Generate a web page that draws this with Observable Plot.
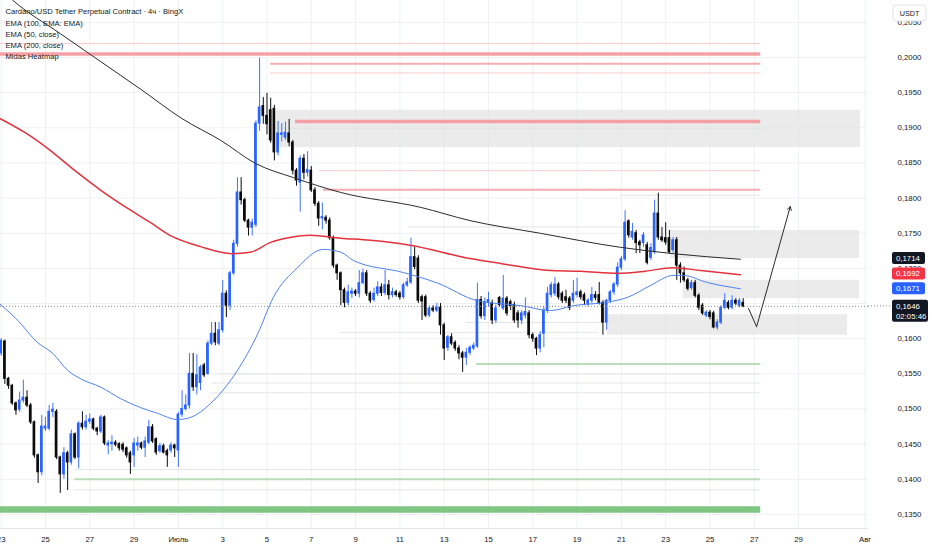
<!DOCTYPE html>
<html><head><meta charset="utf-8">
<script src="https://cdn.jsdelivr.net/npm/d3@7"></script>
<script src="https://cdn.jsdelivr.net/npm/@observablehq/plot@0.6"></script>
<style>
body{margin:0;background:#fff;}
#chart{position:relative;width:932px;height:550px;overflow:hidden;}
</style></head><body><div id="chart"></div>
<script>
// ---------- DATA ----------
const candleStart = "2025-06-23T00:00";   // first 4h candle
const candleHours = 4;
const opens = [
0.1579,0.1596,0.1543,0.1533,0.1508,0.1499,0.1512,0.1516,0.1505,0.1481,
0.1434,0.1410,0.1472,0.1472,0.1496,0.1496,0.1431,0.1407,0.1437,0.1424,
0.1464,0.1431,0.1479,0.1474,0.1482,0.1485,0.1472,0.1468,0.1488,0.1448,
0.1450,0.1452,0.1450,0.1449,0.1444,0.1437,0.1434,0.1448,0.1451,0.1445,
0.1452,0.1474,0.1457,0.1440,0.1447,0.1440,0.1441,0.1448,0.1441,0.1492,
0.1500,0.1505,0.1550,0.1531,0.1537,0.1562,0.1550,0.1593,0.1607,0.1593,
0.1612,0.1664,0.1647,0.1693,0.1735,0.1808,0.1797,0.1768,0.1758,0.1762,
0.1906,0.1931,0.1917,0.1925,0.1927,0.1865,0.1890,0.1886,0.1892,0.1879,
0.1839,0.1822,0.1856,0.1836,0.1839,0.1811,0.1792,0.1771,0.1772,0.1768,
0.1743,0.1704,0.1693,0.1669,0.1651,0.1664,0.1667,0.1664,0.1679,0.1693,
0.1664,0.1655,0.1664,0.1673,0.1665,0.1676,0.1662,0.1666,0.1664,0.1659,
0.1676,0.1680,0.1716,0.1714,0.1659,0.1659,0.1633,0.1643,0.1640,0.1644,
0.1619,0.1587,0.1602,0.1594,0.1586,0.1579,0.1573,0.1580,0.1586,0.1589,
0.1655,0.1632,0.1652,0.1650,0.1626,0.1658,0.1643,0.1657,0.1652,0.1648,
0.1636,0.1626,0.1633,0.1636,0.1605,0.1600,0.1586,0.1607,0.1640,0.1662,
0.1664,0.1677,0.1664,0.1659,0.1657,0.1654,0.1662,0.1666,0.1662,0.1649,
0.1654,0.1662,0.1662,0.1651,0.1623,0.1654,0.1666,0.1677,0.1701,0.1713,
0.1767,0.1744,0.1750,0.1737,0.1736,0.1733,0.1715,0.1723,0.1778,0.1744,
0.1743,0.1743,0.1726,0.1740,0.1704,0.1693,0.1683,0.1672,0.1679,0.1661,
0.1647,0.1633,0.1637,0.1636,0.1616,0.1623,0.1644,0.1651,0.1644,0.1654,
0.1647,0.1651];
const highs = [
0.1600,0.1598,0.1545,0.1535,0.1510,0.1524,0.1541,0.1526,0.1508,0.1483,
0.1436,0.1491,0.1488,0.1505,0.1508,0.1499,0.1433,0.1445,0.1440,0.1470,
0.1466,0.1482,0.1496,0.1491,0.1493,0.1487,0.1474,0.1491,0.1490,0.1455,
0.1462,0.1455,0.1452,0.1452,0.1446,0.1440,0.1458,0.1460,0.1453,0.1460,
0.1484,0.1478,0.1459,0.1451,0.1450,0.1443,0.1452,0.1450,0.1495,0.1526,
0.1520,0.1579,0.1579,0.1577,0.1562,0.1565,0.1597,0.1623,0.1623,0.1623,
0.1683,0.1668,0.1696,0.1740,0.1829,0.1829,0.1800,0.1770,0.1770,0.1910,
0.1999,0.1943,0.1949,0.1942,0.1932,0.1909,0.1906,0.1908,0.1912,0.1882,
0.1842,0.1860,0.1862,0.1866,0.1845,0.1815,0.1795,0.1793,0.1775,0.1772,
0.1746,0.1706,0.1695,0.1672,0.1676,0.1672,0.1670,0.1697,0.1699,0.1697,
0.1667,0.1672,0.1681,0.1678,0.1697,0.1683,0.1672,0.1669,0.1667,0.1679,
0.1686,0.1743,0.1730,0.1718,0.1662,0.1662,0.1647,0.1647,0.1650,0.1650,
0.1622,0.1605,0.1607,0.1597,0.1590,0.1582,0.1586,0.1590,0.1594,0.1679,
0.1660,0.1658,0.1666,0.1655,0.1648,0.1660,0.1690,0.1660,0.1655,0.1652,
0.1640,0.1640,0.1658,0.1640,0.1608,0.1602,0.1610,0.1645,0.1673,0.1680,
0.1687,0.1680,0.1667,0.1669,0.1660,0.1683,0.1686,0.1669,0.1665,0.1657,
0.1673,0.1667,0.1680,0.1654,0.1656,0.1669,0.1680,0.1708,0.1717,0.1782,
0.1769,0.1764,0.1754,0.1740,0.1751,0.1737,0.1735,0.1797,0.1807,0.1758,
0.1765,0.1754,0.1744,0.1744,0.1708,0.1702,0.1686,0.1683,0.1683,0.1664,
0.1650,0.1640,0.1640,0.1639,0.1627,0.1647,0.1664,0.1654,0.1661,0.1657,
0.1657,0.1657];
const lows = [
0.1575,0.1535,0.1528,0.1505,0.1491,0.1495,0.1508,0.1502,0.1478,0.1430,
0.1394,0.1405,0.1468,0.1469,0.1488,0.1428,0.1380,0.1400,0.1384,0.1420,
0.1428,0.1415,0.1470,0.1470,0.1478,0.1469,0.1462,0.1465,0.1448,0.1435,
0.1440,0.1446,0.1440,0.1438,0.1430,0.1407,0.1417,0.1440,0.1442,0.1431,
0.1449,0.1451,0.1434,0.1437,0.1436,0.1417,0.1437,0.1431,0.1417,0.1488,
0.1497,0.1500,0.1525,0.1520,0.1526,0.1545,0.1548,0.1590,0.1590,0.1590,
0.1608,0.1630,0.1640,0.1690,0.1730,0.1790,0.1765,0.1746,0.1746,0.1758,
0.1895,0.1905,0.1890,0.1878,0.1853,0.1860,0.1880,0.1882,0.1873,0.1833,
0.1817,0.1780,0.1826,0.1830,0.1808,0.1788,0.1760,0.1755,0.1763,0.1740,
0.1700,0.1683,0.1647,0.1644,0.1647,0.1657,0.1660,0.1658,0.1677,0.1660,
0.1650,0.1652,0.1660,0.1660,0.1661,0.1655,0.1658,0.1659,0.1655,0.1656,
0.1673,0.1677,0.1698,0.1650,0.1626,0.1630,0.1630,0.1637,0.1637,0.1605,
0.1569,0.1582,0.1590,0.1582,0.1570,0.1552,0.1562,0.1576,0.1583,0.1586,
0.1628,0.1626,0.1645,0.1620,0.1622,0.1645,0.1640,0.1632,0.1640,0.1622,
0.1615,0.1620,0.1628,0.1600,0.1595,0.1576,0.1580,0.1587,0.1636,0.1658,
0.1660,0.1655,0.1650,0.1650,0.1640,0.1650,0.1658,0.1655,0.1647,0.1645,
0.1650,0.1654,0.1648,0.1605,0.1612,0.1650,0.1662,0.1673,0.1697,0.1710,
0.1743,0.1740,0.1721,0.1721,0.1730,0.1705,0.1711,0.1720,0.1740,0.1737,
0.1733,0.1720,0.1722,0.1683,0.1679,0.1680,0.1668,0.1669,0.1658,0.1640,
0.1633,0.1630,0.1627,0.1614,0.1612,0.1620,0.1641,0.1641,0.1641,0.1647,
0.1644,0.1644];
const closes = [
0.1597,0.1543,0.1533,0.1508,0.1498,0.1512,0.1516,0.1505,0.1481,0.1434,
0.1410,0.1475,0.1475,0.1496,0.1499,0.1431,0.1407,0.1437,0.1424,0.1464,
0.1431,0.1479,0.1474,0.1482,0.1485,0.1472,0.1468,0.1488,0.1451,0.1451,
0.1452,0.1449,0.1444,0.1442,0.1434,0.1424,0.1451,0.1451,0.1445,0.1454,
0.1474,0.1454,0.1438,0.1447,0.1438,0.1434,0.1448,0.1444,0.1492,0.1500,
0.1505,0.1550,0.1531,0.1548,0.1559,0.1548,0.1593,0.1607,0.1595,0.1612,
0.1664,0.1647,0.1693,0.1735,0.1808,0.1797,0.1768,0.1758,0.1765,0.1906,
0.1929,0.1917,0.1905,0.1882,0.1865,0.1892,0.1892,0.1893,0.1879,0.1839,
0.1825,0.1856,0.1836,0.1840,0.1811,0.1792,0.1771,0.1773,0.1768,0.1743,
0.1704,0.1693,0.1669,0.1651,0.1666,0.1667,0.1664,0.1679,0.1693,0.1664,
0.1654,0.1664,0.1673,0.1665,0.1676,0.1662,0.1666,0.1662,0.1659,0.1676,
0.1680,0.1716,0.1702,0.1654,0.1653,0.1633,0.1643,0.1640,0.1644,0.1619,
0.1586,0.1602,0.1593,0.1586,0.1579,0.1573,0.1580,0.1587,0.1590,0.1655,
0.1632,0.1652,0.1655,0.1626,0.1643,0.1648,0.1657,0.1636,0.1646,0.1626,
0.1626,0.1636,0.1638,0.1605,0.1600,0.1586,0.1605,0.1640,0.1664,0.1676,
0.1677,0.1659,0.1654,0.1654,0.1644,0.1664,0.1666,0.1659,0.1654,0.1654,
0.1662,0.1658,0.1651,0.1623,0.1654,0.1666,0.1677,0.1701,0.1713,0.1765,
0.1747,0.1752,0.1736,0.1733,0.1747,0.1708,0.1729,0.1778,0.1744,0.1740,
0.1737,0.1723,0.1740,0.1704,0.1693,0.1683,0.1671,0.1679,0.1661,0.1644,
0.1636,0.1637,0.1631,0.1616,0.1623,0.1644,0.1654,0.1644,0.1654,0.1650,
0.1654,0.1646];

// EMA lines [time, value]
const ema200 = [["2025-06-22T23:00",0.2098],["2025-06-23T13:00",0.2081],["2025-06-25T16:00",0.2034],
["2025-06-27T12:00",0.1994],["2025-06-29T07:00",0.1955],["2025-07-01T04:00",0.1913],["2025-07-02T22:00",0.1882],
["2025-07-04T12:00",0.1849],["2025-07-06T05:00",0.1829],["2025-07-08T08:00",0.1808],["2025-07-11T22:00",0.1787],
["2025-07-14T04:00",0.1768],["2025-07-17T08:00",0.1750],["2025-07-20T23:00",0.1730],["2025-07-23T08:00",0.1721],
["2025-07-26T09:00",0.1713]];
const ema100 = [["2025-06-22T23:00",0.1913],["2025-06-24T02:00",0.1893],["2025-06-25T05:00",0.1868],
["2025-06-26T08:00",0.1839],["2025-06-27T12:00",0.1811],["2025-06-28T15:00",0.1787],["2025-06-29T18:00",0.1765],
["2025-06-30T15:00",0.1747],["2025-07-02T00:00",0.1731],["2025-07-03T10:00",0.1721],["2025-07-04T06:00",0.1723],
["2025-07-05T04:00",0.1737],["2025-07-06T01:00",0.1744],["2025-07-06T23:00",0.1747],["2025-07-08T08:00",0.1743],
["2025-07-09T16:00",0.1740],["2025-07-11T11:00",0.1733],["2025-07-14T04:00",0.1714],["2025-07-15T13:00",0.1707],
["2025-07-17T19:00",0.1697],["2025-07-19T04:00",0.1696],["2025-07-20T20:00",0.1693],["2025-07-22T02:00",0.1696],
["2025-07-23T08:00",0.1701],["2025-07-24T14:00",0.1697],["2025-07-26T09:00",0.1691]];
const ema50 = [["2025-06-22T23:00",0.1649],["2025-06-23T18:00",0.1626],["2025-06-24T15:00",0.1595],
["2025-06-25T08:00",0.1579],["2025-06-26T00:00",0.1555],["2025-06-26T14:00",0.1543],["2025-06-27T12:00",0.1531],
["2025-06-28T09:00",0.1515],["2025-06-29T07:00",0.1502],["2025-06-30T01:00",0.1494],["2025-06-30T23:00",0.1485],
["2025-07-01T13:00",0.1488],["2025-07-02T11:00",0.1508],["2025-07-03T16:00",0.1555],["2025-07-04T14:00",0.1607],
["2025-07-05T07:00",0.1659],["2025-07-06T09:00",0.1701],["2025-07-07T13:00",0.1727],["2025-07-08T08:00",0.1723],
["2025-07-08T22:00",0.1711],["2025-07-11T04:00",0.1694],["2025-07-12T17:00",0.1679],["2025-07-14T12:00",0.1654],
["2025-07-16T11:00",0.1647],["2025-07-17T19:00",0.1640],["2025-07-18T20:00",0.1647],["2025-07-20T09:00",0.1652],
["2025-07-21T07:00",0.1659],["2025-07-22T08:00",0.1676],["2025-07-23T08:00",0.1690],["2025-07-23T19:00",0.1690],
["2025-07-24T21:00",0.1680],["2025-07-26T09:00",0.1671]];

// Midas heatmap levels
const heatEnd = "2025-07-27T07:00";
const redLevels = [
 {from:"2025-06-22T23:00", price:0.2020, strength:"weak"},
 {from:"2025-06-22T23:00", price:0.2005, strength:"strong"},
 {from:"2025-07-05T04:00", price:0.1991, strength:"medium"},
 {from:"2025-07-05T04:00", price:0.1978, strength:"weak"},
 {from:"2025-07-06T07:00", price:0.1909, strength:"strong"},
 {from:"2025-07-07T09:00", price:0.1839, strength:"weak"},
 {from:"2025-07-07T13:00", price:0.1812, strength:"medium"}];
const greenLevels = [
 {from:"2025-07-14T11:00", price:0.1564, strength:"medium"},
 {from:"2025-06-26T08:00", price:0.1400, strength:"medium"},
 {from:"2025-06-22T23:00", price:0.1357, strength:"strong"}];
const faintLevels = [
 {from:"2025-07-02T19:00", to:heatEnd, price:0.1550},
 {from:"2025-07-02T12:00", to:heatEnd, price:0.1537},
 {from:"2025-07-02T12:00", to:heatEnd, price:0.1523},
 {from:"2025-06-26T08:00", to:heatEnd, price:0.1414},
 {from:"2025-06-26T08:00", to:heatEnd, price:0.1385},
 {from:"2025-07-20T23:00", to:heatEnd, price:0.1804},
 {from:"2025-07-11T09:00", to:heatEnd, price:0.1759},
 {from:"2025-07-05T10:00", to:heatEnd, price:0.1899},
 {from:"2025-07-08T08:00", to:"2025-07-20T00:00", price:0.1609},
 {from:"2025-07-14T00:00", to:"2025-07-20T12:00", price:0.1623}];
const zones = [
 {from:"2025-07-05T10:00", to:"2025-07-31T19:00", top:0.1925, bottom:0.1872},
 {from:"2025-07-23T05:00", to:"2025-07-31T18:00", top:0.1754, bottom:0.1714},
 {from:"2025-07-23T19:00", to:"2025-07-31T18:00", top:0.1683, bottom:0.1657},
 {from:"2025-07-20T09:00", to:"2025-07-31T05:00", top:0.1634, bottom:0.1605}];

// projection arrow
const arrowPoints = [["2025-07-26T17:45",0.1643],["2025-07-27T02:30",0.1617],["2025-07-28T15:00",0.1788]];

// axes
const yTicks = [0.135,0.140,0.145,0.150,0.155,0.160,0.165,0.170,0.175,0.180,0.185,0.190,0.195,0.200,0.205];
const yTickHidden = [0.165];   // covered by the last-price tag
const xTickDates = ["2025-06-23","2025-06-25","2025-06-27","2025-06-29","2025-07-01","2025-07-03","2025-07-05",
 "2025-07-07","2025-07-09","2025-07-11","2025-07-13","2025-07-15","2025-07-17","2025-07-19","2025-07-21",
 "2025-07-23","2025-07-25","2025-07-27","2025-07-29","2025-08-01"];
const xTickLabels = ["23","25","27","29","Июль","3","5","7","9","11","13","15","17","19","21","23","25","27","29","Авг"];

const legendLines = ["Cardano/USD Tether Perpetual Contract · 4ч · BingX","EMA (100, EMA: EMA)","EMA (50, close)","EMA (200, close)","Midas Heatmap"];
const priceTags = [
 {value:0.1714, kind:"ema200"},
 {value:0.1692, kind:"ema100"},
 {value:0.1671, kind:"ema50"}];
const lastPrice = 0.1646;
const countdown = "02:05:46";
const currency = "USDT";

// ---------- BUILD ----------
const T = s => new Date((s.length === 10 ? s + "T00:00" : s) + ":00Z");
const t0 = +T(candleStart);
const candles = opens.map((o, i) => ({date: new Date(t0 + i * candleHours * 3600e3), open: o, high: highs[i], low: lows[i], close: closes[i]}));
const bull = candles.filter(d => d.close >= d.open);
const bear = candles.filter(d => d.close < d.open);
const BULL = "#2962ff", BEAR = "#0b0b0b";
const half = 1.45 * 3600e3;
const line = a => a.map(([d, v]) => ({date: T(d), value: v}));

const redStyle = {strong: {stroke: "#f5a0a6", w: 3.5}, medium: {stroke: "#f4adb2", w: 2}, weak: {stroke: "#f8cacd", w: 1}};
const greenStyle = {strong: {stroke: "#7ec681", w: 6.5}, medium: {stroke: "#b8ddb9", w: 2}};
const lvl = (arr, styles) => arr.map(l => Plot.ruleY([{...l, x1: T(l.from), x2: T(l.to || heatEnd)}],
  {y: "price", x1: "x1", x2: "x2", stroke: styles[l.strength].stroke, strokeWidth: styles[l.strength].w}));

const xTicks = xTickDates.map(T);
const labelOf = new Map(xTicks.map((d, i) => [+d, xTickLabels[i]]));
const FONT = "Liberation Sans, Arial, sans-serif";

const plot = Plot.plot({
  width: 932, height: 550,
  marginLeft: 0, marginRight: 64, marginTop: 0, marginBottom: 22,
  x: {type: "utc", domain: [T("2025-06-22T23:15"), T("2025-08-01T03:45")]},
  y: {domain: [0.1330, 0.20811]},
  style: {fontFamily: FONT, fontSize: "7.8px", color: "#131722", background: "#fff"},
  marks: [
    Plot.gridX(xTicks, {stroke: "#eef0f3", strokeOpacity: 1}),
    Plot.gridY(yTicks, {stroke: "#eef0f3", strokeOpacity: 1}),
    Plot.ruleY([0.1330], {stroke: "#e4e6ea"}),
    Plot.rect(zones, {x1: d => T(d.from), x2: d => T(d.to), y1: "bottom", y2: "top", fill: "#e3e3e3", fillOpacity: 0.72}),
    ...faintLevels.map(l => Plot.ruleY([{...l, x1: T(l.from), x2: T(l.to)}], {y: "price", x1: "x1", x2: "x2", stroke: "#e2e6e2", strokeWidth: 1})),
    ...lvl(redLevels, redStyle),
    ...lvl(greenLevels, greenStyle),
    Plot.ruleX(bear, {x: "date", y1: "low", y2: "high", stroke: BEAR, strokeWidth: 1}),
    Plot.ruleX(bull, {x: "date", y1: "low", y2: "high", stroke: BULL, strokeWidth: 0.9}),
    Plot.rect(bear, {x1: d => new Date(+d.date - half), x2: d => new Date(+d.date + half), y1: "open", y2: "close", fill: BEAR, insetTop: -0.5, insetBottom: -0.5}),
    Plot.rect(bull, {x1: d => new Date(+d.date - half), x2: d => new Date(+d.date + half), y1: "open", y2: "close", fill: BULL, insetTop: -0.5, insetBottom: -0.5}),
    Plot.line(line(ema50), {x: "date", y: "value", stroke: "#4f82ee", strokeWidth: 1, curve: "monotone-x"}),
    Plot.line(line(ema100), {x: "date", y: "value", stroke: "#e3323d", strokeWidth: 1.5, curve: "monotone-x"}),
    Plot.line(line(ema200), {x: "date", y: "value", stroke: "#2b2b2b", strokeWidth: 1, curve: "monotone-x"}),
    Plot.ruleY([lastPrice], {stroke: "#8a8d96", strokeDasharray: "1,2", strokeWidth: 1}),
    Plot.line(line(arrowPoints.slice(0, 2)), {x: "date", y: "value", stroke: "#2a2a2a", strokeWidth: 1}),
    Plot.arrow([{a: T(arrowPoints[1][0]), av: arrowPoints[1][1], b: T(arrowPoints[2][0]), bv: arrowPoints[2][1]}],
      {x1: "a", y1: "av", x2: "b", y2: "bv", stroke: "#2a2a2a", strokeWidth: 1, headLength: 6}),
    Plot.axisX(xTicks, {tickSize: 0, tickPadding: 8, tickFormat: d => labelOf.get(+d), fill: "#131722", fontSize: 7.8}),
    Plot.axisY(yTicks.filter(v => !yTickHidden.includes(v)), {anchor: "right", tickSize: 0, tickPadding: 29, textAnchor: "start",
      tickFormat: d => d.toFixed(4).replace(".", ","), fill: "#131722", fontSize: 7.8}),
    Plot.text([legendLines.join("\n")], {text: d => d, frameAnchor: "top-left", textAnchor: "start", lineAnchor: "top",
      dx: 5, dy: 6, lineHeight: 1.47, fill: "#131722", fontSize: 7.6})
  ]
});
document.getElementById("chart").append(plot);

// price tags on the price scale
const ys = plot.scale("y");
const svg = d3.select(plot);
const g = svg.append("g").attr("font-family", FONT).attr("font-size", 7.8).attr("text-anchor", "start");
const tagColor = {ema200: "#131722", ema100: "#f23645", ema50: "#2962ff"};
const fmt = v => v.toFixed(4).replace(".", ",");
const yl = ys.apply(lastPrice);
g.append("line").attr("x1", 868).attr("x2", 892).attr("y1", yl).attr("y2", yl)
  .attr("stroke", "#8a8d96").attr("stroke-dasharray", "1,2");
for (const t of priceTags) {
  const y = ys.apply(t.value);
  g.append("rect").attr("x", 892).attr("y", y - 6).attr("width", 33).attr("height", 12).attr("rx", 2).attr("fill", tagColor[t.kind]);
  g.append("text").attr("x", 896).attr("y", y).attr("dy", "0.35em").attr("text-anchor", "start").attr("fill", "#fff").text(fmt(t.value));
}
g.append("rect").attr("x", 892).attr("y", yl - 6).attr("width", 36).attr("height", 22).attr("rx", 2).attr("fill", "#131722");
g.append("text").attr("x", 896).attr("y", yl).attr("dy", "0.35em").attr("text-anchor", "start").attr("fill", "#fff").text(fmt(lastPrice));
g.append("text").attr("x", 896).attr("y", yl + 10).attr("dy", "0.35em").attr("text-anchor", "start").attr("fill", "#fff").text(countdown);
// currency box
g.append("rect").attr("x", 893).attr("y", 5).attr("width", 33).attr("height", 16).attr("rx", 3)
  .attr("fill", "#fff").attr("stroke", "#e0e3eb");
g.append("text").attr("x", 909.5).attr("y", 13).attr("dy", "0.35em").attr("text-anchor", "middle")
  .attr("font-size", 7.2).attr("fill", "#131722").text(currency);
</script></body></html>
